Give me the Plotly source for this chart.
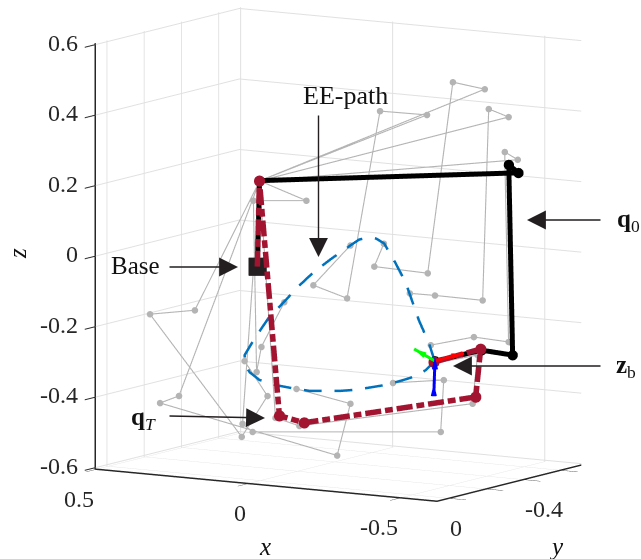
import math
import plotly.graph_objects as go

# shoulder joint shared by every grey configuration
shoulder = (0.190, -0.307, 0.190)

ghost_x = [
    [-0.348, -0.272, -0.212, -0.084, -0.107],
    [-0.405, -0.358, -0.343, -0.229, -0.169],
    [-0.210, -0.098, -0.019, 0.062, -0.027],
    [-0.427, -0.396, -0.405, -0.322, -0.219],
    [0.078, 0.205, 0.197, 0.186, 0.131],
    [0.345, 0.452, 0.233, 0.171, 0.226],
    [0.383, 0.428, 0.005, -0.027, 0.102],
    [0.231, 0.207, -0.243, -0.250, -0.129],
    [0.152, 0.095, -0.319, -0.331, -0.222],
]
ghost_y = [
    [-0.637, -0.590, -0.553, -0.475, -0.489],
    [-0.672, -0.642, -0.634, -0.564, -0.527],
    [-0.552, -0.483, -0.435, -0.386, -0.440],
    [-0.685, -0.666, -0.672, -0.621, -0.558],
    [-0.375, -0.298, -0.302, -0.310, -0.343],
    [-0.212, -0.146, -0.281, -0.318, -0.285],
    [-0.189, -0.161, -0.421, -0.440, -0.361],
    [-0.282, -0.297, -0.572, -0.577, -0.502],
    [-0.330, -0.365, -0.619, -0.626, -0.559],
]
ghost_z = [
    [0.450, 0.470, -0.072, -0.053, 0.012],
    [0.371, 0.394, -0.149, -0.135, -0.129],
    [0.377, 0.388, -0.143, -0.106, 0.007],
    [0.250, 0.272, -0.267, -0.253, -0.276],
    [0.134, 0.134, -0.352, -0.281, -0.154],
    [-0.177, -0.188, -0.536, -0.420, -0.321],
    [-0.420, -0.440, -0.589, -0.442, -0.400],
    [-0.499, -0.522, -0.522, -0.375, -0.383],
    [-0.482, -0.505, -0.442, -0.304, -0.329],
]

path_x = [-0.281, -0.267, -0.243, -0.212, -0.188, -0.160, -0.141, -0.122, -0.100, -0.079, -0.034, 0.009, 0.047, 0.078,
          0.117, 0.152, 0.174, 0.171, 0.162, 0.138, 0.102, 0.062, 0.019, -0.022, -0.057, -0.093, -0.134, -0.165,
          -0.207, -0.236, -0.260, -0.281]
path_y = [-0.478, -0.470, -0.455, -0.436, -0.421, -0.404, -0.392, -0.381, -0.367, -0.354, -0.327, -0.300, -0.277, -0.258,
          -0.235, -0.213, -0.200, -0.201, -0.207, -0.221, -0.243, -0.268, -0.294, -0.319, -0.341, -0.363, -0.388, -0.407,
          -0.433, -0.451, -0.465, -0.478]
path_z = [-0.306, -0.255, -0.190, -0.085, -0.029, 0.028, 0.042, 0.045, 0.039, 0.022, -0.015, -0.054, -0.096, -0.136,
          -0.184, -0.246, -0.289, -0.317, -0.337, -0.359, -0.373, -0.382, -0.390, -0.390, -0.390, -0.387, -0.379, -0.373,
          -0.359, -0.348, -0.331, -0.306]

q0_x = [0.117, 0.112, -0.507, -0.484, -0.493, -0.419, -0.307]
q0_y = [-0.176, -0.179, -0.558, -0.544, -0.550, -0.504, -0.436]
q0_z = [-0.029, 0.214, 0.236, 0.259, -0.281, -0.267, -0.298]

qT_x = [0.091, 0.086, 0.038, -0.021, -0.431, -0.443, -0.331]
qT_y = [-0.133, -0.136, -0.165, -0.202, -0.453, -0.460, -0.392]
qT_z = [-0.022, 0.221, -0.445, -0.465, -0.392, -0.256, -0.293]

frame_origin = (-0.360, -0.350, -0.282)
frame_red = (-0.429, -0.393, -0.260)
frame_green = (-0.310, -0.320, -0.248)
frame_blue = (-0.357, -0.349, -0.381)

x_ticks = [0.5, 0, -0.5]
x_labels = ["0.5", "0", "-0.5"]
y_ticks = [0, -0.2, -0.4, -0.6]
y_labels = ["0", "", "-0.4", ""]
z_ticks = [-0.6, -0.4, -0.2, 0, 0.2, 0.4, 0.6]
z_labels = ["-0.6", "-0.4", "-0.2", "0", "0.2", "0.4", "0.6"]
x_range = [-0.62, 0.504]
y_range = [-0.711, 0.063]
z_range = [-0.604, 0.604]
x_edge = 0.5
y_edge = 0.059
z_edge = -0.6

GRAY = "#b4b4b4"
CRIMSON = "#A2142F"
BLUE = "#0072BD"
FONT = "Liberation Serif"
W, H = 641, 559


def dashed(xs, ys, zs, pattern):
    """Cut a polyline into on/off pieces; pattern is on, off, on, off... in data units."""
    ox, oy, oz = [], [], []
    i, left, on = 0, pattern[0], True
    ox.append(xs[0]); oy.append(ys[0]); oz.append(zs[0])
    for k in range(len(xs) - 1):
        a = (xs[k], ys[k], zs[k])
        b = (xs[k + 1], ys[k + 1], zs[k + 1])
        seg = math.dist(a, b)
        t = 0.0
        while seg - t > left:
            t += left
            f = t / seg
            p = [a[n] + (b[n] - a[n]) * f for n in range(3)]
            if on:
                ox += [p[0], None]; oy += [p[1], None]; oz += [p[2], None]
            else:
                ox.append(p[0]); oy.append(p[1]); oz.append(p[2])
            on = not on
            i = (i + 1) % len(pattern)
            left = pattern[i]
        left -= seg - t
        if on:
            ox.append(b[0]); oy.append(b[1]); oz.append(b[2])
    return ox, oy, oz


fig = go.Figure()
for gx, gy, gz in zip(ghost_x, ghost_y, ghost_z):
    fig.add_trace(go.Scatter3d(
        x=[shoulder[0]] + gx, y=[shoulder[1]] + gy, z=[shoulder[2]] + gz,
        mode="lines+markers", line=dict(color=GRAY, width=2.2),
        marker=dict(color=GRAY, size=3.8), showlegend=False))

bx, by, bz = dashed(path_x, path_y, path_z, [0.050, 0.036])
fig.add_trace(go.Scatter3d(x=bx, y=by, z=bz, mode="lines",
                           line=dict(color=BLUE, width=5), showlegend=False))

fig.add_trace(go.Scatter3d(x=q0_x[2:], y=q0_y[2:], z=q0_z[2:], mode="markers",
                           marker=dict(color="black", size=6), showlegend=False))
fig.add_trace(go.Scatter3d(x=q0_x, y=q0_y, z=q0_z, mode="lines",
                           line=dict(color="black", width=10), showlegend=False))
fig.add_trace(go.Scatter3d(x=q0_x[:1], y=q0_y[:1], z=q0_z[:1], mode="markers",
                           marker=dict(color="#231f20", size=9.5, symbol="square"), showlegend=False))

cx, cy, cz = dashed(qT_x, qT_y, qT_z, [0.045, 0.011, 0.022, 0.011])
fig.add_trace(go.Scatter3d(x=cx, y=cy, z=cz, mode="lines",
                           line=dict(color=CRIMSON, width=11), showlegend=False))
fig.add_trace(go.Scatter3d(x=qT_x[1:], y=qT_y[1:], z=qT_z[1:], mode="markers",
                           marker=dict(color=CRIMSON, size=6.5), showlegend=False))

for tip, col in ((frame_red, "#ff0000"), (frame_green, "#00ff00"), (frame_blue, "#0000ff")):
    fig.add_trace(go.Scatter3d(x=[frame_origin[0], tip[0]], y=[frame_origin[1], tip[1]], z=[frame_origin[2], tip[2]],
                               mode="lines", line=dict(color=col, width=6), showlegend=False))


def cone(pos, direction, col, anchor="tip"):
    fig.add_trace(go.Cone(x=[pos[0]], y=[pos[1]], z=[pos[2]],
                          u=[direction[0]], v=[direction[1]], w=[direction[2]],
                          anchor=anchor, sizemode="absolute", sizeref=0.035, showscale=False,
                          colorscale=[[0, col], [1, col]],
                          lighting=dict(ambient=1, diffuse=0, specular=0, fresnel=0)))


def away(tip):
    return [tip[n] - frame_origin[n] for n in range(3)]


cone(frame_red, away(frame_red), "#ff0000")
cone(frame_green, away(frame_green), "#00ff00")
up = [0, 0, 0.099]
cone(frame_blue, up, "#0000ff", anchor="tail")
cone((frame_origin[0], frame_origin[1], frame_origin[2] + 0.012), up, "#0000ff")


def axis(ticks, labels, rng, ticklen):
    return dict(range=rng, tickvals=ticks, ticktext=labels, title=dict(text=""), showticklabels=False,
                showgrid=True, gridcolor="#e0e0e0", gridwidth=2,
                showline=True, linecolor="#262626", linewidth=3,
                ticks="outside", ticklen=ticklen, tickcolor="#262626", tickwidth=2,
                zeroline=False, showbackground=False, showspikes=False)


def tick_label(s, x, y, z, xanchor, xshift, yshift):
    return dict(text=s, x=x, y=y, z=z, showarrow=False, xanchor=xanchor, yanchor="middle",
                xshift=xshift, yshift=yshift, font=dict(family=FONT, size=24, color="#262626"))


tick_annotations = []
for v, s in zip(x_ticks, x_labels):
    tick_annotations.append(tick_label(s, v, y_edge, z_edge, "right", -1, -31))
for v, s in zip(y_ticks, y_labels):
    if s:
        tick_annotations.append(tick_label(s, -0.618, v, z_edge, "left", 0, -31))
for v, s in zip(z_ticks, z_labels):
    tick_annotations.append(tick_label(s, x_edge, y_edge, v, "right", -17, 2))

fig.update_layout(
    width=W, height=H, margin=dict(l=0, r=0, t=0, b=0), paper_bgcolor="white",
    font=dict(family=FONT, size=25, color="#111111"), showlegend=False,
    scene=dict(
        domain=dict(x=[0, 1.0], y=[0, 1.0]),
        xaxis=axis(x_ticks, x_labels, x_range, 20),
        yaxis=axis(y_ticks, y_labels, y_range, 20),
        zaxis=axis(z_ticks, z_labels, z_range, 24),
        aspectmode="manual", aspectratio=dict(x=1.434, y=0.988, z=1.542),
        camera=dict(eye=dict(x=-0.553, y=1.025, z=0.089), up=dict(x=0, y=0, z=1),
                    center=dict(x=0.0468, y=0.0450, z=-0.0896), projection=dict(type="orthographic")),
        annotations=tick_annotations,
    ),
)


def px(v):
    return v / W


def py(v):
    return 1 - v / H


def text(s, x, y, size=25, angle=0):
    fig.add_annotation(text=s, x=px(x), y=py(y), xref="paper", yref="paper", showarrow=False,
                       xanchor="center", yanchor="middle",
                       font=dict(family=FONT, size=size, color="#111111"), textangle=angle)


def arrow(x0, y0, x1, y1):
    fig.add_annotation(text="", x=px(x1), y=py(y1), xref="paper", yref="paper", axref="pixel", ayref="pixel",
                       ax=x0 - x1, ay=y0 - y1, showarrow=True, arrowhead=2, arrowsize=2.7,
                       arrowwidth=1.4, arrowcolor="#231f20")


text("EE-path", 345, 95, size=26)
text("Base", 135, 265)
text("<b>q</b><sub>0</sub>", 628, 220)
text("<b>z</b><sub>b</sub>", 626, 366)
text("<b>q</b><sub><i>T</i></sub>", 143, 418)
text("<i>x</i>", 265, 546)
text("<i>y</i>", 556, 546)
text("<i>z</i>", 17, 254, angle=-90)
arrow(318.5, 114, 318.5, 257)
arrow(168, 267, 238, 267)
arrow(602, 220, 527, 220)
arrow(602, 366, 453, 366)
arrow(168, 416, 265, 418)

fig.write_html("out.html", config={"displayModeBar": False},
               post_script="document.body.style.margin='0';")
